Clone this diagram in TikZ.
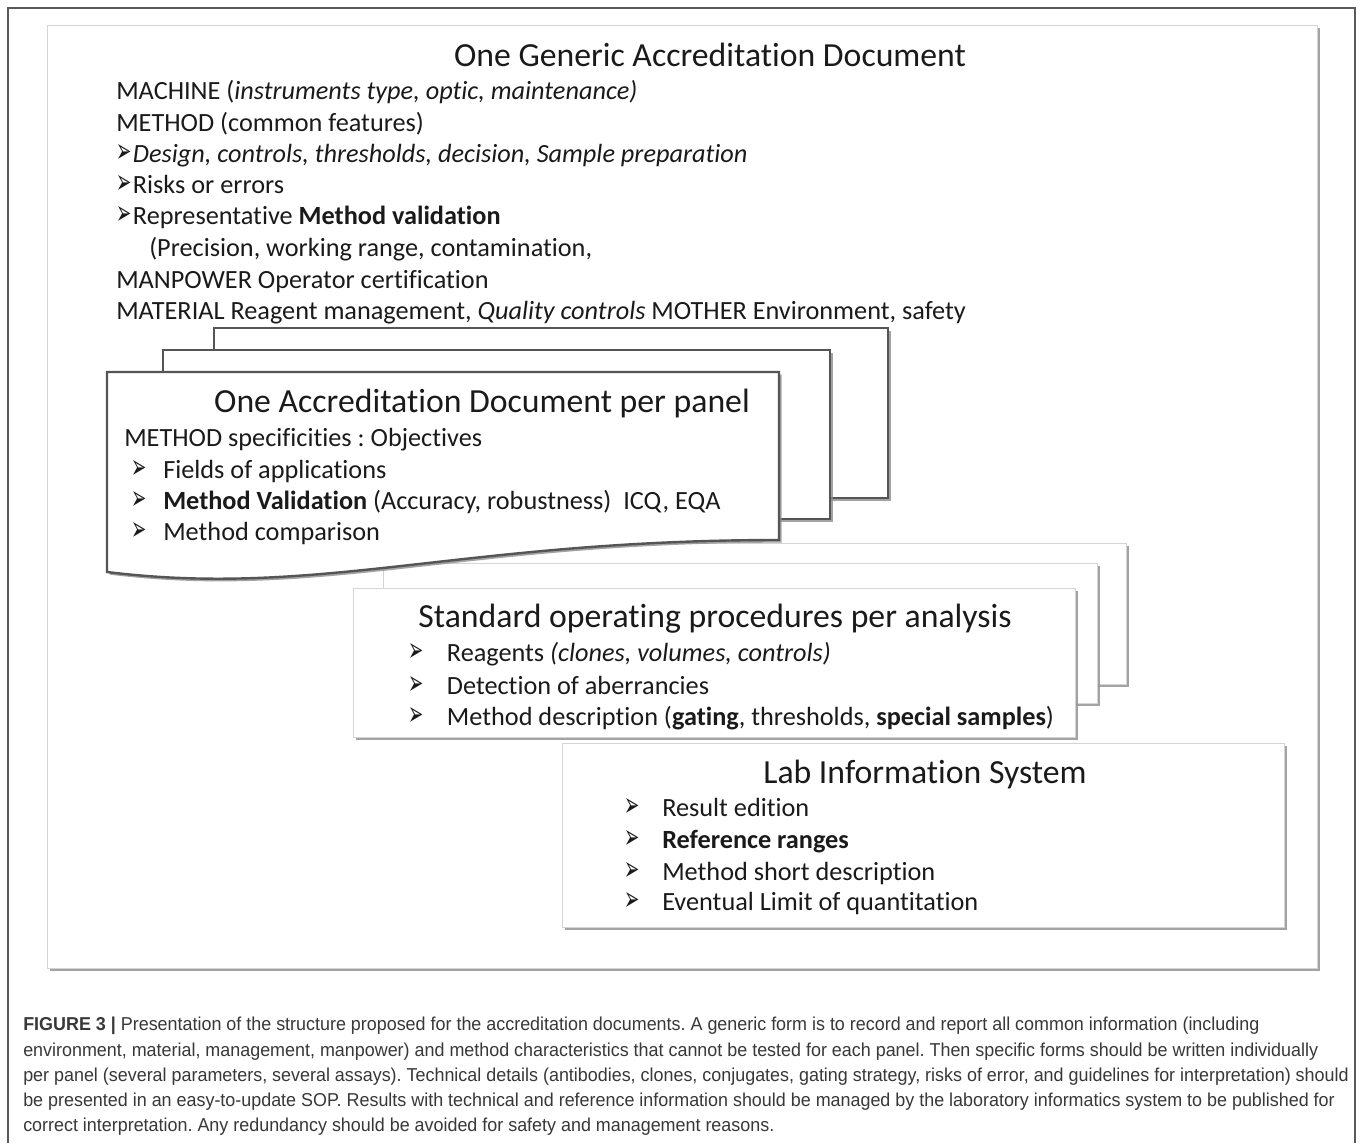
\documentclass[tikz,border=0pt]{standalone}
\usepackage{fontspec}
\setmainfont{Carlito}[Ligatures=NoCommon]
\newfontfamily\capfont{Liberation Sans}[FakeStretch=0.96]
\newfontfamily\dingfont{DejaVu Sans}
\usetikzlibrary{shadows}
\definecolor{txt}{HTML}{1A1A1A}
\definecolor{captxt}{HTML}{383838}
\definecolor{framecol}{HTML}{5A5A5A}
\definecolor{docedge}{HTML}{555555}
\definecolor{lightedge}{HTML}{D4D4D4}
\newcommand{\arrowbul}{\raisebox{0pt}[10pt][0pt]{\resizebox{11.5pt}{13.5pt}{\dingfont ➢}}}
\newcommand{\bulbox}[1]{\makebox[#1][l]{\arrowbul}}
\frenchspacing
\begin{document}
\begin{tikzpicture}[x=0.75pt,y=-0.75pt,
  body/.style={anchor=base west, inner sep=0pt, font=\fontsize{19.7}{23}\selectfont, text=txt},
  ttl/.style={anchor=base, inner sep=0pt, font=\fontsize{25.3}{30}\selectfont, text=txt},
  captext/.style={anchor=base west, inner sep=0pt, font=\capfont\fontsize{14}{17}\selectfont, text=captxt},
  docsheet/.style={fill=white, draw=docedge, line width=1.8pt,
     drop shadow={shadow xshift=2pt, shadow yshift=-2pt, fill=black!45, opacity=0.8}},
  lightsheet/.style={fill=white, draw=lightedge, line width=0.6pt,
     drop shadow={shadow xshift=2.5pt, shadow yshift=-2.5pt, fill=black!40, opacity=0.9}},
]
\useasboundingbox (0,0) rectangle (1360,1143);
\fill[white] (0,0) rectangle (1360,1143);
% outer frame (open at the bottom)
\draw[framecol, line width=1.4pt] (8,1143) -- (8,8) -- (1355,8) -- (1355,1143);
% inner panel
\path[lightsheet] (47,25) rectangle (1317,968);

% top text
\node[ttl] (t0) at (710,66) {One Generic Accreditation Document};
\node[body] (t1) at (116,99) {MACHINE (\textit{instruments type, optic, maintenance)}};
\node[body] (t2) at (116,131) {METHOD (common features)};
\node[body] (t3) at (116,162) {\bulbox{12.5pt}\textit{Design, controls, thresholds, decision, Sample preparation}};
\node[body] (t4) at (116,193) {\bulbox{12.5pt}Risks or errors};
\node[body] (t5) at (116,224) {\bulbox{12.5pt}Representative \textbf{Method validation}};
\node[body] (t6) at (149,256) {(Precision, working range, contamination,};
\node[body] (t7) at (116,288) {MANPOWER Operator certification};
\node[body] (t8) at (116,319) {MATERIAL Reagent management, \textit{Quality controls} MOTHER Environment, safety};

% SOP back sheets
\path[lightsheet] (410,543) rectangle (1126,684);
\path[lightsheet] (383,563) rectangle (1097,703);

% panel document stack
\path[docsheet] (214,328) rectangle (888,498);
\path[docsheet] (163,350) rectangle (830,519);
\path[docsheet] (107,372) -- (779,372) -- (779,540) .. controls (460,540) and (320,598) .. (107,572) -- cycle;

\node[ttl] (p0) at (482,412) {One Accreditation Document per panel};
\node[body] (p1) at (124,446) {METHOD specificities : Objectives};
\node[body] (p2) at (131,478) {\bulbox{24pt}Fields of applications};
\node[body] (p3) at (131,509) {\bulbox{24pt}\textbf{Method Validation} (Accuracy, robustness)\ \ ICQ, EQA};
\node[body] (p4) at (131,540) {\bulbox{24pt}Method comparison};

% SOP front sheet
\path[lightsheet] (353,588) rectangle (1075,737);
\node[ttl] (s0) at (715,627) {Standard operating procedures per analysis};
\node[body] (s1) at (408,661) {\bulbox{29pt}Reagents \textit{(clones, volumes, controls)}};
\node[body] (s2) at (408,694) {\bulbox{29pt}Detection of aberrancies};
\node[body] (s3) at (408,725) {\bulbox{29pt}Method description (\textbf{gating}, thresholds, \textbf{special samples})};

% LIS
\path[lightsheet] (562,743) rectangle (1284,927);
\node[ttl] (l0) at (925,783) {Lab Information System};
\node[body] (l1) at (624,816) {\bulbox{28.5pt}Result edition};
\node[body] (l2) at (624,848) {\bulbox{28.5pt}\textbf{Reference ranges}};
\node[body] (l3) at (624,880) {\bulbox{28.5pt}Method short description};
\node[body] (l4) at (624,910) {\bulbox{28.5pt}Eventual Limit of quantitation};

% caption
\node[captext] (c1) at (23,1030) {\textbf{FIGURE 3 |} Presentation of the structure proposed for the accreditation documents. A generic form is to record and report all common information (including};
\node[captext] (c2) at (23,1056) {environment, material, management, manpower) and method characteristics that cannot be tested for each panel. Then specific forms should be written individually};
\node[captext] (c3) at (23,1081) {per panel (several parameters, several assays). Technical details (antibodies, clones, conjugates, gating strategy, risks of error, and guidelines for interpretation) should};
\node[captext] (c4) at (23,1106) {be presented in an easy-to-update SOP. Results with technical and reference information should be managed by the laboratory informatics system to be published for};
\node[captext] (c5) at (23,1131) {correct interpretation. Any redundancy should be avoided for safety and management reasons.};
\end{tikzpicture}
\end{document}
